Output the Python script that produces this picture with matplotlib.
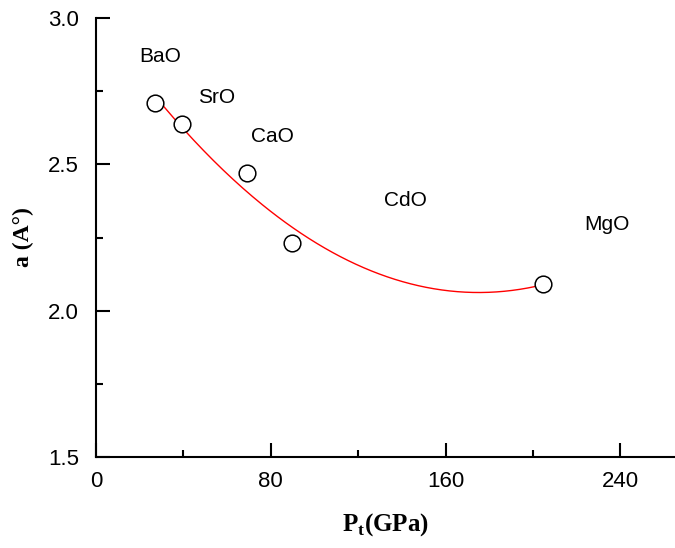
import numpy as np
import matplotlib
matplotlib.use("Agg")
import matplotlib.pyplot as plt
from matplotlib.ticker import MultipleLocator

# data
compounds = ["BaO", "SrO", "CaO", "CdO", "MgO"]
pt = [27.0, 39.4, 69.1, 89.8, 204.7]
a = [2.71, 2.638, 2.47, 2.232, 2.092]

# label positions (data coords)
label_x = [29.4, 55.4, 80.6, 141.5, 234.0]
label_y = [2.87, 2.73, 2.594, 2.375, 2.293]

plt.rcParams["font.family"] = ["Liberation Sans", "DejaVu Sans"]
plt.rcParams["mathtext.fontset"] = "custom"
plt.rcParams["mathtext.bf"] = "Liberation Serif:bold"

fig = plt.figure(figsize=(6.75, 5.48), dpi=100)
ax = fig.add_axes([0.142, 0.166, 0.858, 0.801])

# quadratic fit
coef = np.polyfit(pt, a, 2)
xs = np.linspace(min(pt), max(pt), 200)
ax.plot(xs, np.polyval(coef, xs), color="red", lw=1)

ax.plot(pt, a, "o", mfc="white", mec="black", mew=1.1, ms=12, ls="none", zorder=3)
for name, x, y in zip(compounds, label_x, label_y):
    ax.text(x, y, name, fontsize=15, ha="center", va="center")

ax.set_xlim(0, 265)
ax.set_ylim(1.5, 3.0)
ax.xaxis.set_major_locator(MultipleLocator(80))
ax.xaxis.set_minor_locator(MultipleLocator(40))
ax.yaxis.set_major_locator(MultipleLocator(0.5))
ax.yaxis.set_minor_locator(MultipleLocator(0.25))
ax.yaxis.set_major_formatter(matplotlib.ticker.FormatStrFormatter("%.1f"))
ax.tick_params(which="both", direction="in", labelsize=16, width=1.5)
ax.tick_params(which="major", length=10)
ax.tick_params(which="minor", length=5)
ax.tick_params(axis="x", pad=10)
ax.tick_params(axis="y", pad=12)
for s in ["top", "right"]:
    ax.spines[s].set_visible(False)
for s in ["left", "bottom"]:
    ax.spines[s].set_linewidth(1.5)

ax.set_xlabel(r"P$_\mathbf{t}$(GPa)", fontsize=18, fontweight="bold",
              family="Liberation Serif", labelpad=14)
ax.set_ylabel("a (A°)", fontsize=17, fontweight="bold", family="Liberation Serif", labelpad=10)

fig.savefig("out.png", dpi=100)
